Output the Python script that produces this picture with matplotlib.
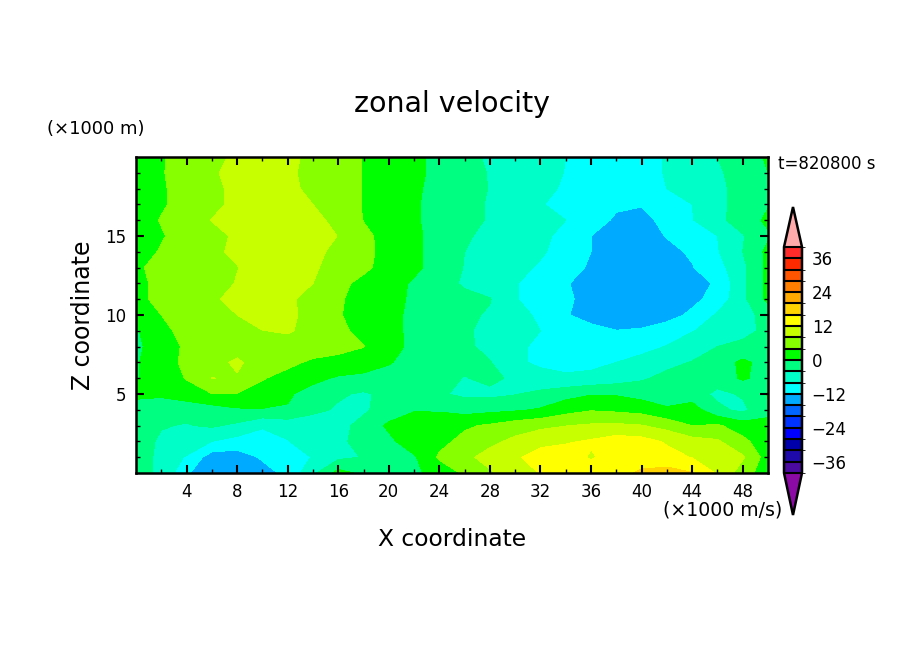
import numpy as np
import matplotlib
matplotlib.use("Agg")
import matplotlib.pyplot as plt
from matplotlib.colors import ListedColormap, BoundaryNorm

#grid of the field
x_km = [0, 2, 4, 6, 8, 10, 12, 14, 16, 18, 20, 22, 24, 26, 28, 30, 32, 34, 36, 38, 40, 42, 44, 46, 48, 50]
z_km = [0, 1, 2, 3, 4, 5, 6, 7, 8, 9, 10, 11, 12, 13, 14, 15, 16, 17, 18, 19, 20]

u = [
	[-3,-4.5,-11.5,-15,-15,-13.5,-11,-5,1.5,-1,-4.5,-1,2, 4.5,7.5,10,12.2,13.5,14.5,15,16.5,17.5,16.2,11.5,6,1.5],
	[-3,-4.5,-8.5,-14,-14,-11.5,-10,-7.8,-5,-3.8,-1.5,-0.5,4.5, 7,9.5,11.5,13.5,14.5,11.5,14,14.5,13.5,11.8,10,8.5,2],
	[-2.5,-4.5,-4.3,-8,-9.5,-10,-8.2,-5.5,-4.3,-3.5,-1,2.5,3, 5,7,9,11,11.5,12.5,14,13.5,11.5,9.5,8.5,5,1.5],
	[-1.5,-3.8,-4.2,-3.5,-4.8,-7.5,-6.5,-6.5,-5,-3,0.8,2,3, 3.5,4.5,6,7,7.9,8.5,8.7,8.2,6.5,4,4.5,2,0.5],
	[-1,-3.5,-3,-1.8,-0.5,-0.3,-0.3,-3,-4.5,-4.5,-2.5,-0.3,-0.5, -1.5,-1,-0.5,0.4,2.5,3.7,3.2,2.5,0.5,1.8,-3,-5,-0.5],
	[0.5,1,2.5,3.9,3.8,3,0.5,-1.5,-3.5,-4.5,-3,-2,-3.5, -4.8,-5,-4.2,-3,-1.5,-0.3,-0.4,-1.5,-2,-2,-5,-3.5,0.2],
	[-0.3,2,4.2,8.1,7.5,4.2,3,1,-0.5,-1,-1.5,-2,-2.5, -4.2,-3,-4.8,-7,-7.5,-7,-6,-4.5,-3,-2.5,-2,0.5,-1.5],
	[-0.5,3,4.5,6,9,5,4.7,3.5,3,2,0.3,-1.5,-2.5, -3,-3.8,-7.5,-8.5,-9,-9,-8,-6.5,-5,-3.8,-2,0.8,-1.5],
	[-1,2.5,4.5,5,5.5,5.5,6,5.5,5,4.1,1.5,-1,-2, -3.3,-5,-7.5,-8.5,-9,-9.5,-10,-9.5,-7.8,-6,-4,-3,-2],
	[-0.5,3.2,5,6.5,7.5,7.9,8.5,6.5,4.8,3,1,-0.8,-2, -3.5,-5,-6.5,-8,-9.5,-10.8,-11.9,-11.5,-10,-8.2,-6.5,-5.2,-3],
	[0.3,4,5.5,6.8,8,10.2,9,6.5,4.3,2.5,1,-0.8,-2, -3.3,-4.4,-6.5,-8.8,-11.7,-13.5,-14.5,-14.5,-13.5,-11.2,-7.5,-5,-3],
	[3,5,6,7.5,9,10,8.5,7,4.5,2.5,1,-0.5,-2, -3,-3.8,-7.8,-9.5,-11.5,-13,-14.5,-15,-14.5,-13,-10.5,-5,1],
	[3.5,4.5,5.5,6.5,8.2,10,11,8,5,3,1.5,-0.5,-2.5, -4.5,-6,-7.8,-9.5,-11.7,-13.5,-15,-15,-14.5,-13.5,-11.5,-5,1],
	[3.5,5,6,7,7.9,9.5,11,8.5,6.5,4.8,2.5,0.8,-1.5, -4.2,-5.3,-6.8,-8.5,-10.5,-12.5,-14.5,-15,-14,-12.2,-9.5,-5,1],
	[2.5,4.3,6,7.5,8.5,11,11.5,9,7,5,2.8,0.8,-1.5, -4,-5,-6,-7.5,-9.5,-12,-14.5,-14.5,-13,-11.5,-8.3,-4,1],
	[2.5,3.7,5.5,7,8.5,11,11.5,10,7.9,4.8,2.8,0.8,-1.5, -3.5,-5,-6.2,-7.2,-9,-12,-14,-13.8,-11.8,-9.5,-8,-4.3,-0.5],
	[2.5,4.2,6,8.1,10,11.5,11,9,7,3.9,2.5,0.5,-1.5, -3,-4.3,-5.5,-6.8,-8,-10.5,-12.5,-13,-11,-8.2,-5,-2.2,0.8],
	[2.5,3.6,5.2,7,9,11,10,8,5.8,3.8,2.5,0.5,-1.5, -3,-4.3,-6,-7.8,-9,-10.5,-11.5,-11.8,-10,-8,-5,-2.5,-0.3],
	[2.5,3.7,5,7,9,10.5,9,7,5.5,3.9,2.5,0.5,-1, -3,-4.1,-5.5,-7,-8.5,-9.5,-10.5,-10,-8,-6.5,-4.8,-2.8,-0.3],
	[2.5,3.8,5.2,7.6,9,10,8.6,7,5.5,3.9,2.5,0.7,-0.8, -2.8,-4.2,-5.5,-7,-8.1,-9.5,-10,-9,-7.8,-6,-4.5,-2.5,0],
	[2.5,3.8,5,7.2,8.5,9.5,8.5,7.5,5.5,3.9,2.5,0.7,-0.8, -3,-4.5,-5.5,-6.5,-8,-9,-9.5,-9,-7.8,-6,-4,-2,0.5],
]

levels = list(range(-40, 41, 4))
band_colors = ["#4b0aa0", "#1e0aa8", "#0000aa", "#0000ff", "#0033ff", "#0066ff", "#00aaff", "#00ffff", "#00ffc8", "#00ff80",
	"#00ff00", "#88ff00", "#c8ff00", "#ffff00", "#ffd400", "#ffaa00", "#ff8000", "#ff5500", "#ff2a00", "#ff2a2a"]
under_color = "#8b0aa5"
over_color = "#ffaaaa"
cbar_ticks = [-36, -24, -12, 0, 12, 24, 36]

W, H = 904, 654

fig = plt.figure(figsize=(W/100, H/100), dpi=100)

#axes position in pixels of the picture
def px_axes(left, top, right, bottom):
	return fig.add_axes([left/W, 1-bottom/H, (right-left)/W, (bottom-top)/H])

ax = px_axes(136, 157, 768, 473)

cmap = ListedColormap(band_colors)
cmap.set_under(under_color)
cmap.set_over(over_color)
norm = BoundaryNorm(levels, cmap.N)

cs = ax.contourf(x_km, z_km, np.array(u), levels=levels, cmap=cmap, norm=norm, extend="both", antialiased=False)

ax.set_xlim(0, 50)
ax.set_ylim(0, 20)
ax.set_xticks(range(4, 49, 4))
ax.set_xticks(range(2, 50, 2), minor=True)
ax.set_yticks([5, 10, 15])
ax.set_yticks(range(1, 20), minor=True)
ax.tick_params(which="major", direction="in", top=True, right=True, length=6, width=1.5, labelsize=12, pad=7)
ax.tick_params(which="minor", direction="in", top=True, right=True, length=3, width=1)
for s in ax.spines.values():
	s.set_linewidth(1.8)

#colorbar, the triangles sit inside the colorbar axes
cax = px_axes(784, 207, 802, 515)
cbar = fig.colorbar(cs, cax=cax, extend="both", extendfrac=[0.186, 0.177], drawedges=True, ticks=cbar_ticks)
cbar.ax.tick_params(length=0, labelsize=12, pad=7)
cbar.outline.set_linewidth(1.8)
cbar.dividers.set_linewidth(1.5)
cbar.ax.set_yticklabels([str(t).replace("-", "\u2212") for t in cbar_ticks])

#text
def px_text(x, y, s, size, **kw):
	fig.text(x/W, 1-y/H, s, fontsize=size, va="center", **kw)

px_text(452, 104, "zonal velocity", 20.5, ha="center")
px_text(47, 129, "(\u00d71000 m)", 13, ha="left")
px_text(83, 315, "Z coordinate", 17, ha="center", rotation=90)
px_text(452, 539, "X coordinate", 16.8, ha="center")
px_text(778, 164, "t=820800 s", 12, ha="left")
px_text(782, 510, "(\u00d71000 m/s)", 13.6, ha="right")

fig.savefig("out.png", dpi=100)
